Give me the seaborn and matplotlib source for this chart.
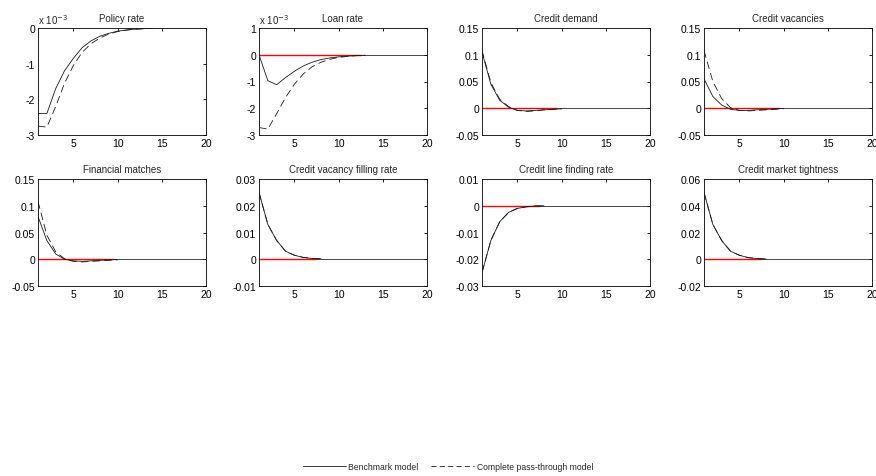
import numpy as np
import pandas as pd
import matplotlib
matplotlib.use("Agg")
import matplotlib.pyplot as plt
import seaborn as sns
from matplotlib.lines import Line2D

titles = ["Policy rate", "Loan rate", "Credit demand", "Credit vacancies",
          "Financial matches", "Credit vacancy filling rate",
          "Credit line finding rate", "Credit market tightness"]

# values (policy and loan rate in units of 1e-3)
policy_bench = [-2.4, -2.4, -1.7, -1.2, -0.85, -0.55, -0.36, -0.23, -0.15, -0.09, -0.055, -0.03, -0.018, -0.01]
policy_pass = [-2.75, -2.78, -2.2, -1.55, -1.05, -0.68, -0.44, -0.28, -0.17, -0.1, -0.06, -0.035, -0.02, -0.01]
loan_bench = [0.0, -0.97, -1.12, -0.85, -0.62, -0.42, -0.28, -0.18, -0.12, -0.08, -0.05, -0.03, -0.02]
loan_pass = [-2.72, -2.78, -2.2, -1.6, -1.1, -0.72, -0.45, -0.28, -0.17, -0.1, -0.06, -0.035, -0.02]
demand_bench = [0.105, 0.045, 0.015, 0.002, -0.004, -0.005, -0.004, -0.003, -0.002, -0.001]
demand_pass = [0.108, 0.048, 0.017, 0.003, -0.004, -0.006, -0.005, -0.003, -0.002, -0.001]
vac_bench = [0.055, 0.022, 0.006, -0.002, -0.004, -0.004, -0.003, -0.002, -0.001, -0.0005]
vac_pass = [0.108, 0.05, 0.018, 0.001, -0.004, -0.005, -0.004, -0.003, -0.002, -0.001]
match_bench = [0.08, 0.035, 0.01, 0.0, -0.003, -0.004, -0.003, -0.002, -0.001, -0.0005]
match_pass = [0.108, 0.045, 0.014, 0.001, -0.004, -0.005, -0.004, -0.003, -0.002, -0.001]
fill_bench = [0.025, 0.013, 0.007, 0.003, 0.0015, 0.0007, 0.0003, 0.0002]
fill_pass = [0.025, 0.013, 0.007, 0.003, 0.0015, 0.0007, 0.0003, 0.0002]
find_bench = [-0.025, -0.013, -0.006, -0.0025, -0.001, -0.0004, -0.0001, 0.0]
find_pass = [-0.025, -0.013, -0.006, -0.0025, -0.001, -0.0004, -0.0001, 0.0]
tight_bench = [0.05, 0.026, 0.014, 0.006, 0.003, 0.0012, 0.0005, 0.0002]
tight_pass = [0.05, 0.026, 0.014, 0.006, 0.003, 0.0012, 0.0005, 0.0002]

bench = [policy_bench, loan_bench, demand_bench, vac_bench, match_bench, fill_bench, find_bench, tight_bench]
passt = [policy_pass, loan_pass, demand_pass, vac_pass, match_pass, fill_pass, find_pass, tight_pass]

ylims = [(-3, 0), (-3, 1), (-0.05, 0.15), (-0.05, 0.15),
         (-0.05, 0.15), (-0.01, 0.03), (-0.03, 0.01), (-0.02, 0.06)]
yticks = [[-3, -2, -1, 0], [-3, -2, -1, 0, 1], [-0.05, 0, 0.05, 0.1, 0.15], [-0.05, 0, 0.05, 0.1, 0.15],
          [-0.05, 0, 0.05, 0.1, 0.15], [-0.01, 0, 0.01, 0.02, 0.03], [-0.03, -0.02, -0.01, 0, 0.01],
          [-0.02, 0, 0.02, 0.04, 0.06]]
ytlabels = [["-3", "-2", "-1", "0"], ["-3", "-2", "-1", "0", "1"],
            ["-0.05", "0", "0.05", "0.1", "0.15"], ["-0.05", "0", "0.05", "0.1", "0.15"],
            ["-0.05", "0", "0.05", "0.1", "0.15"], ["-0.01", "0", "0.01", "0.02", "0.03"],
            ["-0.03", "-0.02", "-0.01", "0", "0.01"], ["-0.02", "0", "0.02", "0.04", "0.06"]]
sci = [True, True, False, False, False, False, False, False]
x_ticks = [5, 10, 15, 20]

sns.set_style("white")
plt.rcParams['font.family'] = ['Liberation Sans', 'DejaVu Sans']
plt.rcParams['font.size'] = 7.5

fig = plt.figure(figsize=(8.76, 4.77), dpi=100)
W, H = 876, 477
lefts = [38, 259, 482, 704]
tops = [29, 180]
aw, ah = 168, 107
LINE = "#1a1a1a"
DASH = (0, (9, 5))

for i in range(8):
    r, c = divmod(i, 4)
    ax = fig.add_axes([lefts[c] / W, 1 - (tops[r] + ah) / H, aw / W, ah / H])
    b = bench[i]
    p = passt[i]
    xb = np.arange(1, len(b) + 1)
    xp = np.arange(1, len(p) + 1)
    if i != 0:
        ax.axhline(0, color="black", lw=0.5, zorder=1)
        ax.plot([1, len(b) - 0.5], [0, 0], color="red", lw=1.0, zorder=2.5)
    sns.lineplot(x=xb, y=b, ax=ax, color=LINE, lw=0.6, zorder=3)
    sns.lineplot(x=xp, y=p, ax=ax, color=LINE, lw=0.6, linestyle=DASH, zorder=3)
    ax.set_xlim(1, 20)
    ax.set_ylim(*ylims[i])
    ax.set_xticks(x_ticks)
    ax.set_xticklabels([str(t) for t in x_ticks])
    ax.set_yticks(yticks[i])
    ax.set_yticklabels(ytlabels[i])
    ax.tick_params(direction="in", length=2.5, width=0.6, top=True, right=True,
                   labelsize=7.5, pad=2, colors="black")
    for s in ax.spines.values():
        s.set_color("black")
        s.set_linewidth(0.6)
        s.set_visible(True)
    ax.set_title(titles[i], fontsize=7, pad=5)
    if sci[i]:
        ax.text(0.0, 1.02, r"x 10$^{-3}$", transform=ax.transAxes, fontsize=7,
                ha="left", va="bottom")

handles = [Line2D([], [], color=LINE, lw=0.6),
           Line2D([], [], color=LINE, lw=0.6, linestyle=(0, (6, 4)))]
fig.legend(handles, ["Benchmark model", "Complete pass-through model"],
           loc="center", bbox_to_anchor=(448 / W, 1 - 468 / H), ncol=2,
           frameon=False, fontsize=6.2, handlelength=5, columnspacing=1.5, handletextpad=0.3)

fig.savefig("out.png", dpi=100, facecolor="white")
